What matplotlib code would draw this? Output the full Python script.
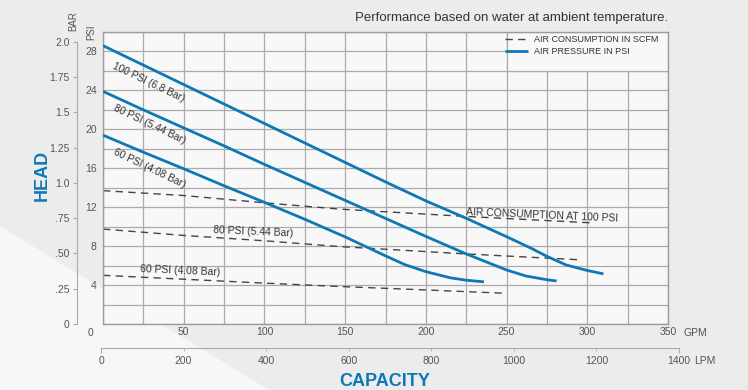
"""Pump performance curve: head vs capacity with air consumption lines
"""

import numpy as np
import matplotlib
matplotlib.use('Agg')
import matplotlib.pyplot as plt
from matplotlib.patches import Rectangle, Polygon

plt.rcParams['font.family'] = ['Liberation Sans', 'DejaVu Sans']

# air pressure curves: capacity (GPM) vs head (PSI)
gpm_100 = [0, 25, 50, 75, 100, 125, 150, 175, 200, 225, 250, 265, 275, 287, 300, 310]
psi_100 = [28.6, 26.6, 24.6, 22.6, 20.6, 18.6, 16.6, 14.6, 12.65, 10.86, 8.97, 7.8, 6.95, 6.06, 5.5, 5.15]
gpm_80 = [0, 25, 50, 75, 100, 125, 150, 175, 200, 225, 250, 262, 275, 281]
psi_80 = [23.9, 22.0, 20.15, 18.3, 16.4, 14.55, 12.7, 10.85, 9.0, 7.2, 5.55, 4.93, 4.55, 4.42]
gpm_60 = [0, 25, 50, 75, 100, 125, 150, 175, 187, 200, 215, 225, 236]
psi_60 = [19.4, 17.65, 15.95, 14.2, 12.5, 10.76, 8.95, 7.0, 6.1, 5.38, 4.75, 4.5, 4.33]

# air consumption lines (dashed)
air_gpm_100 = [0, 50, 100, 147, 225, 302]
air_psi_100 = [13.7, 13.2, 12.45, 11.8, 11.05, 10.4]
air_gpm_80 = [0, 50, 100, 147, 225, 295]
air_psi_80 = [9.75, 9.1, 8.55, 7.95, 7.2, 6.6]
air_gpm_60 = [0, 50, 100, 147, 200, 250]
air_psi_60 = [5.0, 4.6, 4.2, 3.85, 3.5, 3.15]

curve_labels = ['100 PSI (6.8 Bar)', '80 PSI (5.44 Bar)', '60 PSI (4.08 Bar)']
air_labels = ['AIR CONSUMPTION AT 100 PSI', '80 PSI (5.44 Bar)', '60 PSI (4.08 Bar)']
legend_labels = ['AIR CONSUMPTION IN SCFM', 'AIR PRESSURE IN PSI']

psi_ticks = [4, 8, 12, 16, 20, 24, 28]
gpm_ticks = [50, 100, 150, 200, 250, 300, 350]
bar_ticks = [0, 0.25, 0.5, 0.75, 1.0, 1.25, 1.5, 1.75, 2.0]
bar_labels = ['0', '.25', '.50', '.75', '1.0', '1.25', '1.5', '1.75', '2.0']
lpm_ticks = [0, 200, 400, 600, 800, 1000, 1200, 1400]

BLUE = '#0f78b4'
GRID = '#ababab'
TXT = '#555555'
W, H = 748, 390

fig = plt.figure(figsize=(W / 100, H / 100), dpi=100, facecolor='#ececec')
fig.patches.append(Polygon([[0, 0], [0, 0.42], [0.36, 0]], closed=True,
                           transform=fig.transFigure, facecolor='#f7f7f7',
                           edgecolor='none', zorder=-1))

ax = fig.add_axes([103 / W, 66 / H, 565 / W, 292 / H])
ax.set_facecolor('#f8f8f8')
ax.set_xlim(0, 350)
ax.set_ylim(0, 30)
ax.set_xticks(np.arange(0, 351, 25), minor=True)
ax.set_yticks(np.arange(0, 31, 2), minor=True)
ax.set_xticks(gpm_ticks, [str(t) for t in gpm_ticks])
ax.set_yticks(psi_ticks, [str(t) for t in psi_ticks])
ax.set_axisbelow(True)
ax.grid(which='both', color=GRID, lw=0.9)
ax.tick_params(which='both', length=0, labelsize=7.5, labelcolor=TXT)
ax.tick_params(axis='x', pad=2.2)
ax.tick_params(axis='y', pad=4.5)
for s in ax.spines.values():
    s.set_color('#9c9c9c')
    s.set_linewidth(1)

# box behind the legend hides the grid
ax.add_patch(Rectangle((250, 26), 100, 4, facecolor='#f8f8f8', edgecolor=GRID,
                       lw=0.9, zorder=1))

dash = (5.3, 3.8)
pres_lines = []
for g, p in [(gpm_100, psi_100), (gpm_80, psi_80), (gpm_60, psi_60)]:
    pres_lines += ax.plot(g, p, color=BLUE, lw=2.0, solid_capstyle='butt',
                          solid_joinstyle='round', zorder=3)
air_lines = []
for g, p in [(air_gpm_100, air_psi_100), (air_gpm_80, air_psi_80), (air_gpm_60, air_psi_60)]:
    air_lines += ax.plot(g, p, color='#444444', lw=1.0, dashes=dash, zorder=2)

for lab, pos in zip(curve_labels, [(28.5, 24.85), (28.9, 20.5), (28.9, 16.0)]):
    ax.text(pos[0], pos[1], lab, rotation=-25.5, ha='center', va='center',
            fontsize=7.3, color='#333333', rotation_mode='anchor')
for lab, pos in zip(air_labels, [(271.8, 11.15), (93, 9.5), (47.9, 5.45)]):
    ax.text(pos[0], pos[1], lab, rotation=-2.5, ha='center', va='center',
            fontsize=7.5, color='#333333', rotation_mode='anchor', zorder=4)

ax.legend([air_lines[0], pres_lines[0]], legend_labels, loc='upper left',
          bbox_to_anchor=(505 / W, 1 - 35 / H), bbox_transform=fig.transFigure,
          frameon=False, fontsize=6.5, handlelength=2.6, handletextpad=0.6,
          labelspacing=0.3, borderpad=0, borderaxespad=0, labelcolor='#333333')

# BAR scale on the left
bax = fig.add_axes([77 / W, 66 / H, 10 / W, 292 / H])
bax.set_ylim(0, 30 / 14.5038)
bax.patch.set_visible(False)
for s in ['top', 'right', 'bottom']:
    bax.spines[s].set_visible(False)
bax.spines['left'].set_bounds(0, 2.0)
bax.spines['left'].set_color(GRID)
bax.set_xticks([])
bax.set_yticks(bar_ticks, bar_labels)
bax.tick_params(axis='y', length=2.9, color=GRID, labelsize=7.5, labelcolor=TXT, pad=2.5)

# LPM scale at the bottom
lax = fig.add_axes([101 / W, 42 / H, 578 / W, 10 / H])
lax.set_xlim(0, 1400)
lax.patch.set_visible(False)
for s in ['top', 'right', 'left']:
    lax.spines[s].set_visible(False)
lax.spines['bottom'].set_color(GRID)
lax.set_yticks([])
lax.set_xticks([lpm_ticks[0], lpm_ticks[-1]], [str(lpm_ticks[0]), str(lpm_ticks[-1])])
lax.set_xticks(lpm_ticks[1:-1], [str(t) for t in lpm_ticks[1:-1]], minor=True)
lax.tick_params(axis='x', which='major', length=3.6, color=GRID, labelsize=7.5,
                labelcolor=TXT, pad=2.2)
lax.tick_params(axis='x', which='minor', length=1.8, color=GRID, labelsize=7.5,
                labelcolor=TXT, pad=4.0)

fig.text(90 / W, 1 - 333 / H, '0', ha='center', va='center', fontsize=7.5, color=TXT)
fig.text(684 / W, 1 - 333 / H, 'GPM', ha='left', va='center', fontsize=7.5, color=TXT)
fig.text(694 / W, 1 - 361 / H, 'LPM', ha='left', va='center', fontsize=7.5, color=TXT)
fig.text(73.5 / W, 1 - 21 / H, 'BAR', rotation=90, ha='center', va='center',
         fontsize=7, color=TXT)
fig.text(91 / W, 1 - 32.7 / H, 'PSI', rotation=90, ha='center', va='center',
         fontsize=7, color=TXT)
fig.text(42 / W, 1 - 175 / H, 'HEAD', rotation=90, ha='center', va='center',
         fontsize=13, fontweight='bold', color=BLUE)
fig.text(384.5 / W, 1 - 381 / H, 'CAPACITY', ha='center', va='center',
         fontsize=13, fontweight='bold', color=BLUE)
fig.text(668 / W, 1 - 18 / H, 'Performance based on water at ambient temperature.',
         ha='right', va='center', fontsize=9.5, color='#333333')

fig.savefig('out.png', dpi=100, facecolor=fig.get_facecolor())
